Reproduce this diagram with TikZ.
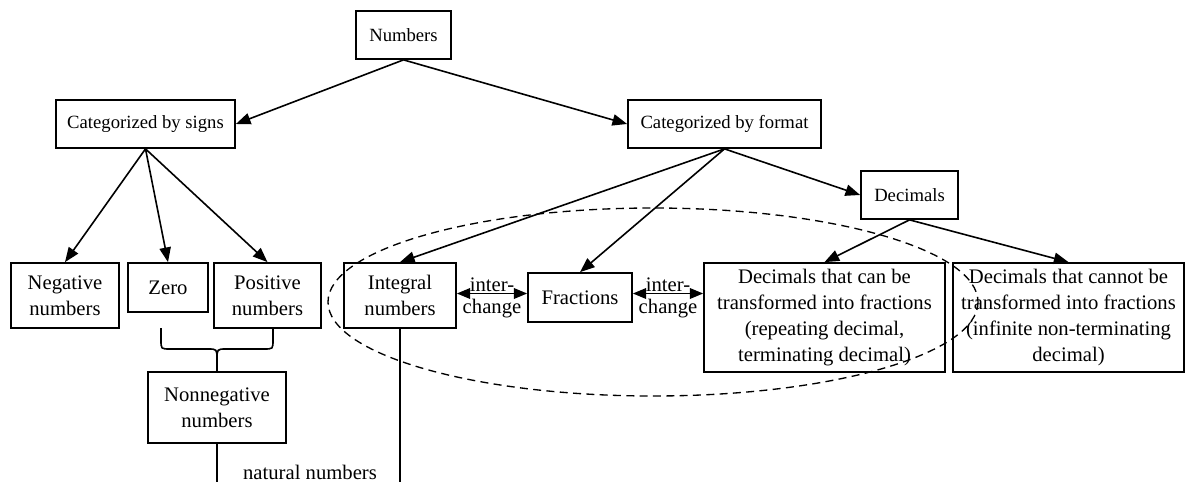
\documentclass[tikz,border=0pt]{standalone}
\usepackage{fontspec}
\setmainfont{Liberation Serif}
\usetikzlibrary{arrows.meta}
\tikzset{
	box/.style = {draw, line width = 1.3pt, inner sep = 0pt, align = center, font = \fontsize{15.5}{19.5}\selectfont},
	topbox/.style = {box, font = \fontsize{14}{18}\selectfont, minimum height = 36pt},
	link/.style = {line width = 1.2pt, -{Triangle[length = 11pt, width = 8.5pt]}},
	swap/.style = {line width = 1.2pt, {Triangle[length = 10pt, width = 8pt]}-{Triangle[length = 10pt, width = 8pt]}},
	tag/.style = {inner sep = 0pt, font = \fontsize{15.5}{19.5}\selectfont}
}
\begin{document}
\begin{tikzpicture}[x = .75pt, y = -.75pt]
				\useasboundingbox (0,0) rectangle (1186,482);
				% top levels
				\node[topbox, minimum width = 71.25pt] (numbers) at (403.5,35) {Numbers};
				\node[topbox, minimum width = 134.25pt] (signs) at (145.5,124) {Categorized by signs};
				\node[topbox, minimum width = 144.75pt] (format) at (724.5,124) {Categorized by format};
				\node[topbox, minimum width = 72.75pt] (decimals) at (909.5,195) {Decimals};
				% by signs
				\node[box, minimum width = 81pt, minimum height = 48.75pt] (negative) at (65,295.5) {Negative\\numbers};
				\node[box, minimum width = 60pt, minimum height = 36.75pt] (zero) at (168,287.5) {Zero};
				\node[box, minimum width = 80.25pt, minimum height = 48.75pt] (positive) at (267.5,295.5) {Positive\\numbers};
				\node[box, minimum width = 103.5pt, minimum height = 53.25pt] (nonneg) at (217,407.5) {Nonnegative\\numbers};
				% by format
				\node[box, minimum width = 84pt, minimum height = 48.75pt] (integral) at (400,295.5) {Integral\\numbers};
				\node[box, minimum width = 78pt, minimum height = 36.75pt] (fractions) at (580,297.5) {Fractions};
				\node[box, minimum width = 180.75pt, minimum height = 81.75pt] (can) at (824.5,317.5) {Decimals that can be\\transformed into fractions\\(repeating decimal,\\terminating decimal)};
				\node[box, minimum width = 173.25pt, minimum height = 81.75pt] (cannot) at (1068.5,317.5) {Decimals that cannot be\\transformed into fractions\\(infinite non-terminating\\decimal)};
				\draw[link] (numbers.south) -- (signs.east);
				\draw[link] (numbers.south) -- (format.west);
				\draw[link] (signs.south) -- (negative.north);
				\draw[link] (signs.south) -- (zero.north);
				\draw[link] (signs.south) -- (positive.north);
				\draw[link] (format.south) -- (integral.north);
				\draw[link] (format.south) -- (fractions.north);
				\draw[link] (format.south) -- (decimals.west);
				\draw[link] (decimals.south) -- (can.north);
				\draw[link] (decimals.south) -- (cannot.north);
				% interchange arrows, kept level
				\coordinate (swapL) at ([yshift = 1.5pt]integral.east);
				\draw[swap] (swapL) -- node[tag, above = 1pt] {inter-} node[tag, below = 4pt] {change} (swapL -| fractions.west);
				\draw[swap] (swapL -| fractions.east) -- node[tag, above = 1pt] {inter-} node[tag, below = 4pt] {change} (swapL -| can.west);
				% brace under zero and positive
				\draw[line width = 1.2pt] (161,328) -- (161,340) .. controls (161,349) .. (170,349) -- (208,349) .. controls (217,349) .. (217,360) -- (nonneg.north);
				\draw[line width = 1.2pt] (217,360) .. controls (217,349) .. (226,349) -- (264,349) .. controls (273,349) .. (273,340) -- (273,328);
				% natural numbers
				\coordinate (nonnegEnd) at (217,482);
				\coordinate (integralEnd) at (400,482);
				\draw[line width = 1.2pt] (nonneg.south) -- (nonnegEnd);
				\draw[line width = 1.2pt] (integral.south) -- (integralEnd);
				\node[tag] (natural) at (310,472) {natural numbers};
				\draw[line width = 1pt, dash pattern = on 6pt off 4pt] (653,302) ellipse [x radius = 325, y radius = 94];
				\end{tikzpicture}
\end{document}
